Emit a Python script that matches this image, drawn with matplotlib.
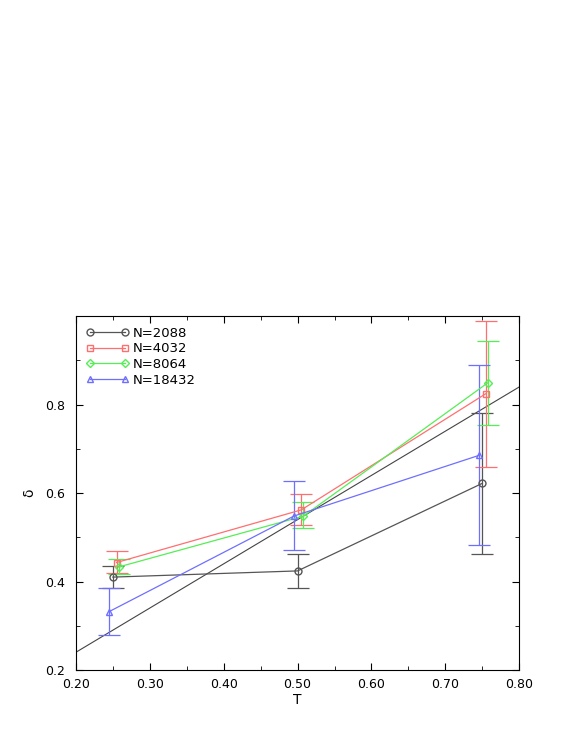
import matplotlib
matplotlib.use("Agg")
import matplotlib.pyplot as plt
from matplotlib.lines import Line2D
from matplotlib.ticker import MultipleLocator, FixedFormatter, FormatStrFormatter, FixedLocator

labels = ["N=2088", "N=4032", "N=8064", "N=18432"]
colors = ["#555555", "#ff6f6f", "#55ee55", "#6f6fff"]
markers = ["o", "s", "D", "^"]
xs = [[0.25, 0.50, 0.75], [0.255, 0.505, 0.755], [0.258, 0.508, 0.758], [0.245, 0.495, 0.745]]
ys = [[0.410, 0.424, 0.622], [0.443, 0.562, 0.825], [0.433, 0.548, 0.850], [0.332, 0.548, 0.685]]
lo = [[0.385, 0.385, 0.463], [0.420, 0.527, 0.660], [0.418, 0.520, 0.755], [0.280, 0.472, 0.482]]
hi = [[0.435, 0.462, 0.780], [0.470, 0.598, 0.990], [0.450, 0.580, 0.945], [0.385, 0.627, 0.890]]
fit_x = [0.2, 0.8]
fit_y = [0.24, 0.84]
yticks = [0.2, 0.4, 0.6, 0.8]

fig = plt.figure(figsize=(5.75, 7.44), dpi=100)
ax = fig.add_axes([0.132, 0.0995, 0.771, 0.4755])
ax.plot(fit_x, fit_y, color="#444444", lw=0.8)
handles = []
for x, y, l, h, c, m, lab in zip(xs, ys, lo, hi, colors, markers, labels):
    ms = 4 if m == "D" else 5
    yerr = [[yy - a for yy, a in zip(y, l)], [b - yy for yy, b in zip(y, h)]]
    ax.errorbar(x, y, yerr=yerr, color=c, marker=m, mfc="none", mec=c, ms=ms,
                lw=0.9, elinewidth=0.9, capsize=8, capthick=0.9)
    handles.append(Line2D([], [], color=c, marker=m, mfc="none", mec=c, ms=ms, lw=0.9, label=lab))
ax.set_xlim(0.2, 0.8)
ax.set_ylim(0.2, 1.0)
ax.xaxis.set_major_locator(MultipleLocator(0.1))
ax.xaxis.set_minor_locator(MultipleLocator(0.05))
ax.yaxis.set_major_locator(FixedLocator(yticks))
ax.yaxis.set_minor_locator(MultipleLocator(0.1))
ax.xaxis.set_major_formatter(FormatStrFormatter("%.2f"))
ax.yaxis.set_major_formatter(FormatStrFormatter("%.1f"))
ax.tick_params(which="both", direction="in", top=True, right=True, labelsize=9)
ax.tick_params(which="major", length=5)
ax.tick_params(which="minor", length=3)
ax.tick_params(axis="y", pad=8)
ax.tick_params(axis="x", pad=6)
ax.set_xlabel("T", fontsize=10, labelpad=1)
ax.set_ylabel("δ", fontsize=10, labelpad=6)
ax.legend(handles=handles, loc="upper left", frameon=False, fontsize=9.5, handlelength=3.2,
          numpoints=2, labelspacing=0.2, borderaxespad=0.4, handletextpad=0.3)
fig.savefig("out.png", dpi=100)
